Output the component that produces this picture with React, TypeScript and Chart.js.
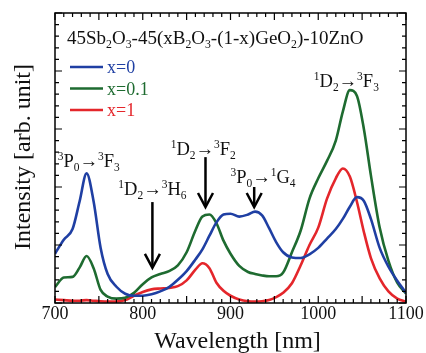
import React, { useEffect, useRef } from "react";
import { Chart, registerables } from "chart.js";
Chart.register(...registerables);

const wavelengths = [700, 710, 720, 728, 736, 744, 752, 760, 770, 780, 790, 800, 810, 820, 830, 840, 850, 860, 868, 876, 884, 892, 900, 910, 920, 928, 936, 944, 952, 960, 970, 980, 990, 1000, 1010, 1020, 1028, 1036, 1044, 1052, 1060, 1070, 1080, 1090, 1100];

const intensityX0 = [0.17, 0.218, 0.255, 0.35, 0.447, 0.35, 0.19, 0.10, 0.056, 0.032, 0.025, 0.025, 0.03, 0.04, 0.055, 0.08, 0.11, 0.15, 0.185, 0.232, 0.278, 0.305, 0.308, 0.298, 0.305, 0.315, 0.302, 0.258, 0.21, 0.175, 0.157, 0.155, 0.168, 0.19, 0.222, 0.255, 0.29, 0.332, 0.365, 0.352, 0.29, 0.19, 0.125, 0.077, 0.035];

const intensityX01 = [0.055, 0.088, 0.09, 0.122, 0.162, 0.12, 0.045, 0.022, 0.015, 0.018, 0.035, 0.065, 0.088, 0.1, 0.11, 0.13, 0.175, 0.25, 0.298, 0.305, 0.275, 0.215, 0.17, 0.128, 0.107, 0.1, 0.095, 0.092, 0.092, 0.105, 0.175, 0.25, 0.36, 0.43, 0.49, 0.56, 0.66, 0.734, 0.715, 0.6, 0.44, 0.26, 0.145, 0.07, 0.033];

const intensityX1 = [0.012, 0.01, 0.008, 0.008, 0.01, 0.008, 0.006, 0.005, 0.005, 0.01, 0.025, 0.038, 0.047, 0.05, 0.052, 0.058, 0.078, 0.115, 0.137, 0.12, 0.07, 0.042, 0.025, 0.012, 0.006, 0.005, 0.006, 0.01, 0.02, 0.035, 0.068, 0.13, 0.2, 0.26, 0.36, 0.43, 0.464, 0.436, 0.35, 0.245, 0.155, 0.085, 0.04, 0.015, 0.005];

const xTickLabels = ["700", "800", "900", "1000", "1100"];
const seriesLabels = ["x=0", "x=0.1", "x=1"];
const seriesColors = ["#1f3fa3", "#1e6b30", "#e4262b"];

const titleText = "45Sb_2O_3-45(xB_2O_3-(1-x)GeO_2)-10ZnO";
const xTitle = "Wavelength [nm]";
const yTitle = "Intensity [arb. unit]";

// transition labels: text, anchor wavelength, anchor intensity (baseline)
const labelTexts = ["^3P_0→^3F_3", "^1D_2→^3H_6", "^1D_2→^3F_2", "^3P_0→^1G_4", "^1D_2→^3F_3"];
const labelWl = [738.5, 811, 869, 937, 1032];
const labelVal = [0.469, 0.372, 0.51, 0.413, 0.745];

// arrows: wavelength, start intensity, tip intensity
const arrowWl = [811, 871.5, 927];
const arrowFrom = [0.348, 0.503, 0.40];
const arrowTo = [0.121, 0.331, 0.331];

const FAMILY = '"Liberation Serif", "DejaVu Serif", serif';

type Seg = { t: string; k: "n" | "sup" | "sub" };
function parse(s: string): Seg[] {
  const out: Seg[] = [];
  for (let i = 0; i < s.length; i++) {
    const c = s[i];
    if ((c === "^" || c === "_") && i + 1 < s.length) {
      out.push({ t: s[i + 1], k: c === "^" ? "sup" : "sub" });
      i++;
    } else {
      const last = out[out.length - 1];
      if (last && last.k === "n") last.t += c;
      else out.push({ t: c, k: "n" });
    }
  }
  return out;
}

function drawRich(ctx: CanvasRenderingContext2D, s: string, x: number, y: number, size: number, color: string, align: "left" | "center") {
  const segs = parse(s);
  const small = size * 0.62;
  let w = 0;
  for (const sg of segs) {
    ctx.font = `${sg.k === "n" ? size : small}px ${FAMILY}`;
    w += ctx.measureText(sg.t).width;
  }
  let cx = align === "center" ? x - w / 2 : x;
  ctx.fillStyle = color;
  ctx.textAlign = "left";
  ctx.textBaseline = "alphabetic";
  for (const sg of segs) {
    ctx.font = `${sg.k === "n" ? size : small}px ${FAMILY}`;
    const dy = sg.k === "sup" ? -size * 0.38 : sg.k === "sub" ? size * 0.22 : 0;
    ctx.fillText(sg.t, cx, y + dy);
    cx += ctx.measureText(sg.t).width;
  }
}

const decorPlugin = {
  id: "decor",
  afterDraw(chart: any) {
    const ctx: CanvasRenderingContext2D = chart.ctx;
    const { left, right, top, bottom } = chart.chartArea;
    const xs = chart.scales.x;
    const ys = chart.scales.y;
    ctx.save();
    ctx.strokeStyle = "#000";
    ctx.lineWidth = 1.5;
    ctx.strokeRect(left, top, right - left, bottom - top);
    ctx.lineWidth = 1.2;
    ctx.beginPath();
    for (let v = 700; v <= 1100; v += 10) {
      const px = xs.getPixelForValue(v);
      const len = v % 50 === 0 ? 7 : 4;
      ctx.moveTo(px, bottom);
      ctx.lineTo(px, bottom - len);
      ctx.moveTo(px, top);
      ctx.lineTo(px, top + len);
    }
    for (let i = 0; i <= 25; i++) {
      const py = ys.getPixelForValue(i * 0.04);
      const len = i % 5 === 0 ? 7 : 4;
      ctx.moveTo(left, py);
      ctx.lineTo(left + len, py);
      ctx.moveTo(right, py);
      ctx.lineTo(right - len, py);
    }
    ctx.stroke();

    // tick labels
    ctx.fillStyle = "#111";
    ctx.font = `18px ${FAMILY}`;
    ctx.textAlign = "center";
    ctx.textBaseline = "alphabetic";
    for (const lb of xTickLabels) {
      ctx.fillText(lb, xs.getPixelForValue(Number(lb)), bottom + 16);
    }
    // axis titles
    ctx.font = `24px ${FAMILY}`;
    ctx.fillText(xTitle, (left + right) / 2 + 7, bottom + 45);
    ctx.save();
    ctx.translate(30, 157);
    ctx.rotate(-Math.PI / 2);
    ctx.fillText(yTitle, 0, 0);
    ctx.restore();

    // title
    drawRich(ctx, titleText, left + 12, top + 31, 19, "#111", "left");

    // legend
    for (let i = 0; i < seriesLabels.length; i++) {
      const ly = top + 54 + i * 21.5;
      ctx.strokeStyle = seriesColors[i];
      ctx.lineWidth = 2.5;
      ctx.beginPath();
      ctx.moveTo(left + 15, ly);
      ctx.lineTo(left + 48, ly);
      ctx.stroke();
      ctx.fillStyle = seriesColors[i];
      ctx.font = `18px ${FAMILY}`;
      ctx.textAlign = "left";
      ctx.fillText(seriesLabels[i], left + 52, ly + 6);
    }

    // transition labels
    for (let i = 0; i < labelTexts.length; i++) {
      drawRich(ctx, labelTexts[i], xs.getPixelForValue(labelWl[i]), ys.getPixelForValue(labelVal[i]), 18.5, "#111", "center");
    }
    // arrows
    ctx.strokeStyle = "#000";
    ctx.lineWidth = 2.5;
    ctx.lineCap = "butt";
    for (let i = 0; i < arrowWl.length; i++) {
      const ax = xs.getPixelForValue(arrowWl[i]);
      const y0 = ys.getPixelForValue(arrowFrom[i]);
      const y1 = ys.getPixelForValue(arrowTo[i]);
      ctx.beginPath();
      ctx.moveTo(ax, y0);
      ctx.lineTo(ax, y1 - 1);
      ctx.stroke();
      ctx.beginPath();
      ctx.moveTo(ax - 7.5, y1 - 14);
      ctx.lineTo(ax, y1);
      ctx.lineTo(ax + 7.5, y1 - 14);
      ctx.stroke();
    }
    ctx.restore();
  },
};

export default function App() {
  const ref = useRef<HTMLCanvasElement>(null);
  useEffect(() => {
    if (!ref.current) return;
    const mk = (vals: number[]) => wavelengths.map((w, i) => ({ x: w, y: vals[i] }));
    const all = [intensityX0, intensityX01, intensityX1];
    const chart = new Chart(ref.current, {
      type: "line",
      data: {
        datasets: all.map((vals, i) => ({
          label: seriesLabels[i],
          data: mk(vals),
          borderColor: seriesColors[i],
          borderWidth: 2.6,
          pointRadius: 0,
          fill: false,
          cubicInterpolationMode: "monotone" as const,
        })),
      },
      options: {
        animation: false,
        responsive: false,
        devicePixelRatio: 1,
        layout: { padding: { left: 55, right: 20, top: 13, bottom: 50 } },
        scales: {
          x: { type: "linear", min: 700, max: 1100, display: false },
          y: { min: 0, max: 1, display: false },
        },
        plugins: { legend: { display: false }, tooltip: { enabled: false } },
      },
      plugins: [decorPlugin],
    });
    return () => chart.destroy();
  }, []);
  return (
    <div style={{ position: "absolute", left: 0, top: 0, width: 426, height: 353, background: "#fff" }}>
      <canvas ref={ref} width={426} height={353} />
    </div>
  );
}
